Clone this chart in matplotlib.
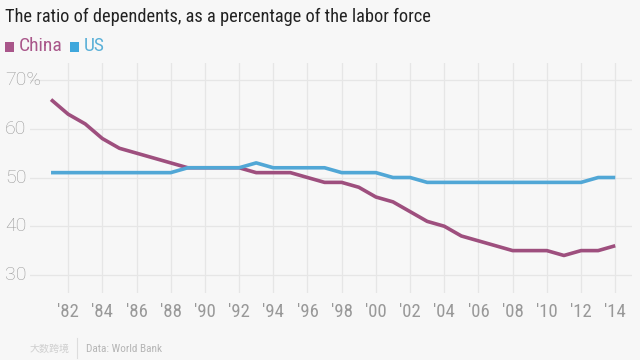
import matplotlib
matplotlib.use("Agg")
import matplotlib.pyplot as plt
from matplotlib import font_manager as fm
from matplotlib.lines import Line2D
from matplotlib.patches import Rectangle

years = list(range(1981, 2015))
china = [66, 63, 61, 58, 56, 55, 54, 53, 52, 52, 52, 52, 51, 51, 51, 50, 49, 49,
         48, 46, 45, 43, 41, 40, 38, 37, 36, 35, 35, 35, 34, 35, 35, 36]
us = [51, 51, 51, 51, 51, 51, 51, 51, 52, 52, 52, 52, 53, 52, 52, 52, 52, 51,
      51, 51, 50, 50, 49, 49, 49, 49, 49, 49, 49, 49, 49, 49, 50, 50]
xticks = list(range(1982, 2015, 2))
xtick_labels = ["'" + str(y)[2:] for y in xticks]
yticks = [30, 40, 50, 60, 70]
ytick_labels = ["30", "40", "50", "60", "70%"]
title = "The ratio of dependents, as a percentage of the labor force"
series_names = ["China", "US"]
source = "Data: World Bank"
watermark = "大数跨境"

BG = "#f7f7f7"
CHINA_C = "#9e4f7e"
US_C = "#51a7d6"
GRID_C = "#e6e6e6"
TICK_C = "#999999"

available = {f.name for f in fm.fontManager.ttflist}
narrow = "Roboto"
for cand in ["Roboto Condensed", "Liberation Sans Narrow", "Archivo Narrow", "PT Sans Narrow",
             "Fira Sans Condensed", "Barlow Semi Condensed", "Encode Sans Condensed", "Roboto"]:
    if cand in available:
        narrow = cand
        break

W, H = 640, 360
fig = plt.figure(figsize=(6.4, 3.6), dpi=100, facecolor=BG)
renderer = fig.canvas.get_renderer()

ax_left, ax_right, ax_top, ax_bot = 30, 632, 63, 293
ax = fig.add_axes([ax_left / W, 1 - ax_bot / H, (ax_right - ax_left) / W, (ax_bot - ax_top) / H])
ax.set_facecolor(BG)

ax.plot(years, china, color=CHINA_C, lw=2.6, solid_capstyle="butt", zorder=3)
ax.plot(years, us, color=US_C, lw=2.6, solid_capstyle="butt", zorder=3)

ax.set_xlim(1979.77, 2014.98)
ax.set_ylim(26.3, 73.5)
ax.set_xticks(xticks)
ax.set_xticklabels([])
ax.set_yticks(yticks)
ax.set_yticklabels([])
ax.tick_params(length=0)
ax.grid(True, color=GRID_C, lw=0.9)
for s in ax.spines.values():
    s.set_visible(False)


def fit_text(x_px, y_px, s, target_w, size, **kw):
    t = fig.text(x_px / W, 1 - y_px / H, s, fontsize=size, **kw)
    w = t.get_window_extent(renderer).width
    if w > 0:
        t.set_fontsize(size * target_w / w)
    return t


# y tick labels, left aligned at figure edge
for v, lab in zip(yticks, ytick_labels):
    _, yd = ax.transData.transform((2000, v))
    fig.text(5 / W, yd / H, lab, ha="left", va="center", fontsize=14,
             color=TICK_C, family="Roboto", fontweight="light")

# x tick labels
for x, lab in zip(xticks, xtick_labels):
    xd, _ = ax.transData.transform((x, 30))
    fig.text(xd / W, 1 - 312 / H, lab, ha="center", va="center", fontsize=13.5,
             color=TICK_C, family=narrow)

# title
fit_text(5, 17, title, 427, 14, ha="left", va="center", color="#222222", family=narrow)

# legend
t1 = fig.text(19 / W, 1 - 46 / H, series_names[0], ha="left", va="center", fontsize=14,
              color="#a9568a", family=narrow)
e1 = t1.get_window_extent(renderer)
fig.patches.append(Rectangle((5 / W, 1 - 52 / H), 9 / W, 10 / H, transform=fig.transFigure,
                             facecolor="#a9568a", edgecolor="none"))
sq2 = e1.x1 + 7
fig.patches.append(Rectangle((sq2 / W, 1 - 52 / H), 9 / W, 10 / H, transform=fig.transFigure,
                             facecolor="#3fa7dc", edgecolor="none"))
fig.text((sq2 + 14) / W, 1 - 46 / H, series_names[1], ha="left", va="center", fontsize=14,
         color="#5ab0d8", family=narrow)

# footer
fit_text(30, 349, watermark, 40, 9, ha="left", va="center", color="#cfcfcf",
         family=["Noto Sans CJK SC", "DejaVu Sans"])
fig.add_artist(Line2D([77 / W, 77 / W], [1 - 358 / H, 1 - 338 / H], transform=fig.transFigure,
                      color="#dddddd", lw=0.8))
fit_text(86, 349, source, 76, 10, ha="left", va="center", color="#b5b5b5", family=narrow)

fig.savefig("out.png", dpi=100, facecolor=BG)
